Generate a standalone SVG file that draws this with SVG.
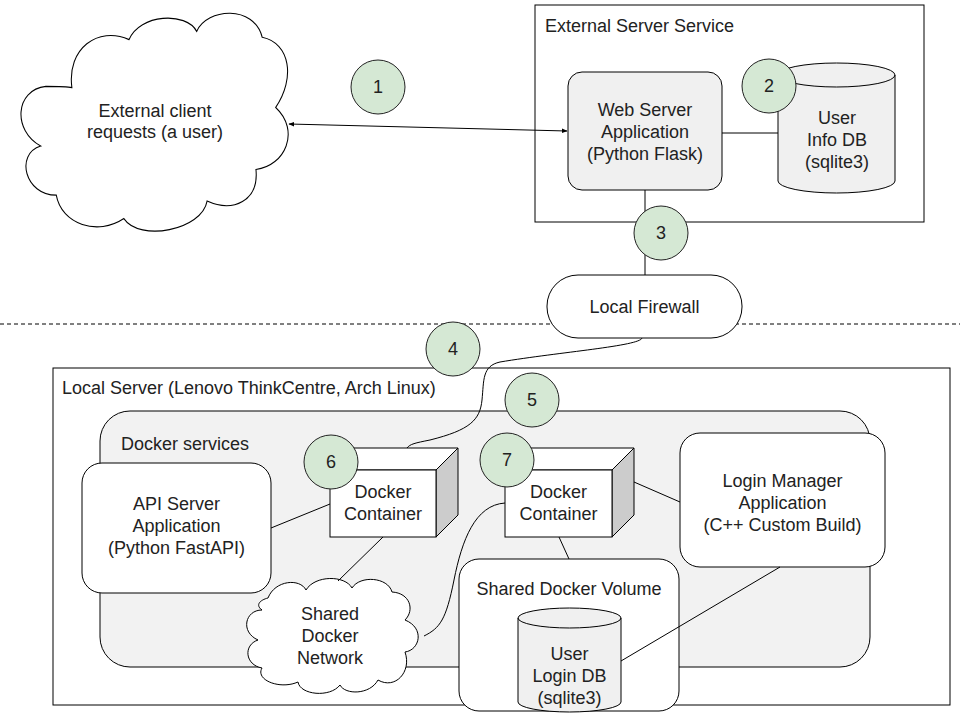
<svg xmlns="http://www.w3.org/2000/svg" width="960" height="720" viewBox="0 0 960 720">
<style>
text{font-family:"Liberation Sans",Arial,sans-serif;font-size:18px;fill:#222}
.c{text-anchor:middle}
.s{stroke:#000;stroke-width:1;fill:none}
.n{fill:#d5e8d4;stroke:#222;stroke-width:1}
.w{fill:#fff;stroke:#000}
.g{fill:#f0f0f0;stroke:#000}
</style>
<defs>
<marker id="a" viewBox="0 0 10 10" refX="9" refY="5" markerWidth="6" markerHeight="6" orient="auto-start-reverse"><path d="M0,1 L10,5 L0,9 Z" fill="#000"/></marker>
</defs>
<rect width="960" height="720" fill="#fff"/>
<line x1="0" y1="324" x2="960" y2="324" stroke="#000" stroke-dasharray="4 3"/>
<g id="ext-server"><rect x="535" y="5" width="389" height="217" class="w"/><text x="545" y="32">External Server Service</text></g>
<g id="local-server"><rect x="53" y="368" width="897" height="337" class="w"/><text x="62" y="394">Local Server (Lenovo ThinkCentre, Arch Linux)</text></g>
<g id="docker-services"><rect x="100" y="411" width="770" height="256" rx="30" class="g" style="fill:#f2f2f2"/><text x="121" y="450">Docker services</text></g>
<g id="client"><path class="w" transform="translate(153,125) scale(1.04,1.17) translate(-153,-125)" d="M75,93 C70,60 100,40 130,52 C140,30 185,28 195,45 C205,25 250,22 258,50 C285,55 290,85 271,110 C295,130 280,160 252,163 C255,190 230,200 205,190 C200,215 140,225 125,205 C100,220 65,210 60,185 C30,185 20,150 45,143 C18,130 20,95 50,92 C55,92 70,92 75,93 Z"/><text x="155" y="117" class="c">External client</text><text x="155" y="138" class="c">requests (a user)</text></g>
<g id="web"><rect x="568" y="72" width="154" height="118" rx="14" class="g"/><text x="645" y="116" class="c">Web Server</text><text x="645" y="138" class="c">Application</text><text x="645" y="160" class="c">(Python Flask)</text></g>
<g id="infodb"><path class="g" d="M778,75 A58.5,12 0 0 1 895,75 V181 A58.5,12 0 0 1 778,181 Z"/><path class="s" d="M778,75 A58.5,12 0 0 0 895,75"/><text x="837" y="124" class="c">User</text><text x="837" y="146" class="c">Info DB</text><text x="837" y="168" class="c">(sqlite3)</text></g>
<g id="firewall"><rect x="547" y="275" width="195" height="63" rx="31" class="w"/><text x="644.5" y="313" class="c">Local Firewall</text></g>
<g id="api"><rect x="82" y="463" width="189" height="130" rx="20" class="w"/><text x="176.5" y="510" class="c">API Server</text><text x="176.5" y="532" class="c">Application</text><text x="176.5" y="554" class="c">(Python FastAPI)</text></g>
<g id="container1"><path class="w" d="M330,470 L352,448 H458 L436,470 Z"/><path d="M436,470 L458,448 V515 L436,537 Z" fill="#ccc" stroke="#000"/><rect x="330" y="470" width="106" height="67" class="w"/><text x="383" y="498" class="c">Docker</text><text x="383" y="520" class="c">Container</text></g>
<g id="container2"><path class="w" d="M505,470 L527,448 H634 L612,470 Z"/><path d="M612,470 L634,448 V515 L612,537 Z" fill="#ccc" stroke="#000"/><rect x="505" y="470" width="107" height="67" class="w"/><text x="558.5" y="498" class="c">Docker</text><text x="558.5" y="520" class="c">Container</text></g>
<g id="login"><rect x="680" y="433" width="205" height="134" rx="20" class="w"/><text x="782.5" y="487" class="c">Login Manager</text><text x="782.5" y="509" class="c">Application</text><text x="782.5" y="531" class="c">(C++ Custom Build)</text></g>
<g id="netcloud"><path class="w" d="M268,598 C275,580 300,578 306,590 C315,575 345,575 352,588 C360,575 388,577 392,592 C410,593 415,610 405,620 C425,628 420,650 405,652 C412,672 395,690 378,680 C370,695 345,695 340,685 C330,698 300,695 298,682 C280,690 255,680 262,668 C245,665 243,645 258,640 C240,632 245,610 262,610 C255,605 260,600 268,598 Z"/><text x="330" y="620" class="c">Shared</text><text x="330" y="642" class="c">Docker</text><text x="330" y="664" class="c">Network</text></g>
<g id="volume"><rect x="459" y="559" width="220" height="152" rx="20" class="w"/><text x="569" y="595" class="c">Shared Docker Volume</text></g>
<g id="logindb"><path class="g" d="M518,618 A51.5,10 0 0 1 621,618 V702 A51.5,10 0 0 1 518,702 Z"/><path class="s" d="M518,618 A51.5,10 0 0 0 621,618"/><text x="569.5" y="660" class="c">User</text><text x="569.5" y="682" class="c">Login DB</text><text x="569.5" y="704" class="c">(sqlite3)</text></g>
<g id="connectors" class="s">
<line x1="289" y1="124" x2="567" y2="131" marker-start="url(#a)" marker-end="url(#a)"/>
<line x1="722" y1="133" x2="778" y2="133"/>
<line x1="645" y1="190" x2="645" y2="275"/>
<path d="M642,338 C640,346 560,352 500,362 C482,366 484,380 482,400 C480,420 470,430 430,440 C415,443 410,444 407,448"/>
<line x1="271" y1="528" x2="330" y2="504"/>
<line x1="383" y1="537" x2="338" y2="581"/>
<path d="M505,503 C475,505 462,540 454,580 C446,620 440,628 424,636"/>
<line x1="559" y1="537" x2="569" y2="559"/>
<line x1="634" y1="482" x2="680" y2="502"/>
<line x1="780" y1="567" x2="621" y2="661"/>
</g>
<g id="badges">
<circle cx="378" cy="87" r="27" class="n"/><text x="378" y="93" class="c">1</text>
<circle cx="769" cy="86" r="27" class="n"/><text x="769" y="92" class="c">2</text>
<circle cx="661" cy="233" r="27" class="n"/><text x="661" y="239" class="c">3</text>
<circle cx="453" cy="349" r="27" class="n"/><text x="453" y="355" class="c">4</text>
<circle cx="532" cy="400" r="27" class="n"/><text x="532" y="406" class="c">5</text>
<circle cx="331" cy="462" r="27" class="n"/><text x="331" y="468" class="c">6</text>
<circle cx="507" cy="460" r="27" class="n"/><text x="507" y="466" class="c">7</text>
</g>
</svg>
